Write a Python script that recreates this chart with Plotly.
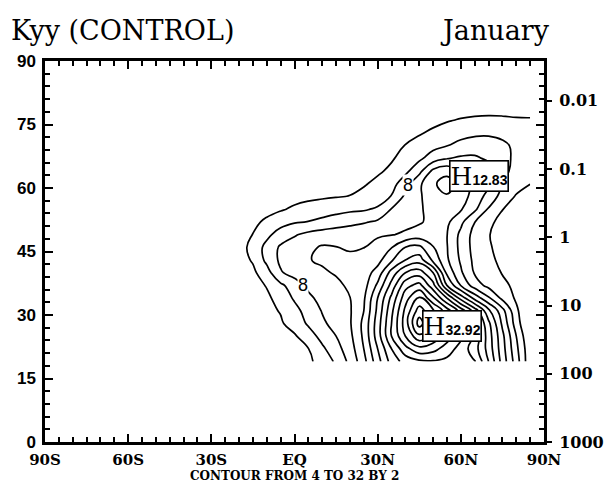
import plotly.graph_objects as go
import numpy as np

# ---------------- data ----------------
LATS = [-45, -40, -35, -30, -25, -20, -15, -10, -5, 0, 5, 10, 15, 20, 25,
        30, 35, 40, 45, 50, 55, 60, 65, 70, 75, 80, 85]
HEIGHTS = [19, 22, 25, 28, 31, 34, 37, 40, 43, 46, 49, 52, 55, 58, 61,
           64, 67, 70, 73, 76, 79]

K_Z19 = [0.5, 0.8, 1.0, 1.3, 1.6, 2.0, 2.4, 2.8, 3.2, 3.5, 3.8, 4.4, 6.4, 8.5, 11.3, 15.2, 18.8, 20.8, 21.6, 21.8, 21.5, 20.8, 20.3, 16, 11.2, 7, 2.5]
K_Z22 = [0.5, 0.8, 1.1, 1.4, 1.7, 2.1, 2.5, 2.9, 3.3, 3.6, 3.95, 5.6, 7.3, 9.0, 12, 16, 20, 23.3, 25.3, 24.7, 23, 21.2, 18.9, 15.2, 10.8, 6.5, 2.5]
K_Z25 = [0.5, 0.8, 1.1, 1.5, 1.9, 2.3, 2.7, 3.1, 3.5, 3.8, 5.0, 6.7, 8.0, 9.5, 12.4, 17, 22, 26, 29.5, 27.5, 25, 22.5, 19.7, 15, 10.5, 6, 2]
K_Z28 = [0.6, 0.9, 1.3, 1.7, 2.2, 2.6, 3.0, 3.4, 3.8, 4.7, 6.3, 7.7, 8.6, 9.8, 12.5, 17, 22, 27, 32.92, 29.3, 26, 23, 19.2, 14.5, 9.6, 5, 1.5]
K_Z31 = [0.6, 1.0, 1.4, 1.9, 2.4, 2.8, 3.2, 3.6, 4.1, 5.3, 6.9, 8.1, 9.1, 9.8, 12, 16.5, 21.5, 26.5, 31, 28.3, 25, 21.2, 17.2, 12.5, 8.7, 4.4, 1.8]
K_Z34 = [0.6, 0.9, 1.3, 1.8, 2.3, 2.8, 3.3, 3.7, 4.6, 6.3, 7.6, 8.6, 9.3, 9.95, 11.7, 16.0, 20.5, 25.2, 28.2, 24.4, 20, 15.2, 11.3, 8.3, 5.5, 3.7, 2]
K_Z37 = [0.5, 0.8, 1.2, 1.6, 2.1, 2.7, 3.4, 4.1, 5.6, 7.0, 8.4, 9.0, 9.5, 10.4, 11.2, 14.4, 18.7, 23.3, 24.7, 20.7, 14, 9.9, 7, 5.4, 4.5, 3.5, 2.5]
K_Z40 = [0.5, 0.8, 1.2, 1.7, 2.3, 3.0, 3.6, 5.2, 7.8, 8.8, 9.3, 9.7, 10.2, 10.6, 11.0, 12.8, 16.8, 20.0, 21, 18, 11.5, 8.3, 5.8, 4.7, 3.9, 3.0, 2.2]
K_Z43 = [0.4, 0.7, 1.1, 1.6, 2.3, 3.2, 4.2, 6.5, 8.4, 9.2, 9.9, 10.3, 10.5, 10.6, 10.8, 11.3, 13.7, 16, 17, 13.5, 10.3, 7.7, 5.5, 4.4, 3.6, 2.8, 2.0]
K_Z46 = [0.3, 0.6, 1.0, 1.5, 2.2, 3.1, 4.7, 6.6, 8.3, 9.0, 9.6, 10.2, 10.05, 9.7, 9.95, 10.8, 11.9, 14, 14.5, 12.1, 10.1, 7.4, 5.3, 4.2, 3.4, 2.6, 1.8]
K_Z49 = [0.3, 0.5, 0.9, 1.4, 2.0, 2.9, 4.05, 5.5, 6.9, 7.8, 8.5, 8.9, 9.1, 9.3, 9.5, 9.7, 9.9, 10.3, 10.8, 10.8, 10.05, 7.5, 5.3, 4.1, 3.2, 2.4, 1.6]
K_Z52 = [0.2, 0.4, 0.8, 1.2, 1.8, 2.6, 3.5, 4.4, 5.2, 5.8, 6.05, 6.5, 7.0, 7.4, 7.8, 8.3, 8.9, 9.4, 9.8, 10.5, 10.4, 8.5, 6.05, 4.3, 3.6, 2.7, 1.8]
K_Z55 = [0.2, 0.3, 0.6, 1.0, 1.5, 2.1, 2.8, 3.3, 3.8, 4.3, 4.7, 5.0, 5.3, 5.6, 5.75, 6.3, 8.1, 9.0, 9.7, 10.8, 11.1, 10.2, 8.4, 5.8, 4.05, 2.9, 2.0]
K_Z58 = [0.1, 0.2, 0.4, 0.7, 1.1, 1.6, 2.2, 2.7, 3.1, 3.4, 3.6, 3.75, 3.9, 4.05, 4.6, 4.9, 6.1, 8.4, 9.7, 11.2, 11.8, 10.8, 9.3, 7.2, 5.3, 3.8, 2.7]
K_Z61 = [0.1, 0.1, 0.2, 0.4, 0.7, 1.0, 1.4, 1.8, 2.2, 2.5, 2.8, 3.0, 3.2, 3.5, 3.8, 4.5, 5.2, 7.2, 9.6, 11.7, 12.83, 11.0, 9.5, 8.5, 6.0, 4.9, 4.05]
K_Z64 = [0.1, 0.1, 0.1, 0.2, 0.4, 0.6, 0.9, 1.2, 1.5, 1.8, 2.1, 2.4, 2.7, 3.0, 3.3, 3.7, 4.4, 5.5, 7.4, 10.5, 11.4, 10.2, 9.5, 8.7, 7.0, 4.9, 4.6]
K_Z67 = [0.05, 0.05, 0.1, 0.15, 0.25, 0.4, 0.6, 0.8, 1.1, 1.4, 1.6, 1.9, 2.2, 2.5, 2.8, 3.2, 3.8, 4.7, 5.6, 7.0, 7.9, 8.3, 8.3, 7.7, 6.6, 5.6, 5.0]
K_Z70 = [0.05, 0.05, 0.05, 0.1, 0.15, 0.25, 0.4, 0.6, 0.8, 1.0, 1.2, 1.4, 1.6, 1.9, 2.2, 2.6, 3.1, 4.1, 4.8, 5.4, 5.95, 6.6, 7.0, 6.9, 6.4, 5.6, 5.0]
K_Z73 = [0.05, 0.05, 0.05, 0.05, 0.1, 0.15, 0.25, 0.35, 0.5, 0.65, 0.8, 1.0, 1.2, 1.4, 1.7, 2.0, 2.4, 3.0, 3.8, 4.4, 4.9, 5.3, 5.6, 5.7, 5.5, 5.0, 4.6]
K_Z76 = [0.05, 0.05, 0.05, 0.05, 0.05, 0.1, 0.15, 0.2, 0.3, 0.4, 0.5, 0.6, 0.8, 1.0, 1.2, 1.5, 1.8, 2.2, 2.8, 3.4, 3.85, 4.15, 4.3, 4.35, 4.3, 4.2, 4.2]
K_Z79 = [0.05, 0.05, 0.05, 0.05, 0.05, 0.05, 0.1, 0.15, 0.2, 0.25, 0.3, 0.4, 0.5, 0.7, 0.9, 1.1, 1.4, 1.7, 2.0, 2.4, 2.8, 3.1, 3.3, 3.4, 3.4, 3.3, 3.2]

KYY = [K_Z19, K_Z22, K_Z25, K_Z28, K_Z31, K_Z34, K_Z37, K_Z40, K_Z43, K_Z46,
       K_Z49, K_Z52, K_Z55, K_Z58, K_Z61, K_Z64, K_Z67, K_Z70, K_Z73, K_Z76, K_Z79]

X_TICKS = [-90, -60, -30, 0, 30, 60, 90]
X_LABELS = ["90S", "60S", "30S", "EQ", "30N", "60N", "90N"]
Y_TICKS = [0, 15, 30, 45, 60, 75, 90]
P_TICKS = [1000, 100, 10, 1, 0.1, 0.01]
P_LABELS = ["1000", "100", "10", "1", "0.1", "0.01"]
SCALE_HEIGHT_KM = 7.0
C_START, C_END, C_STEP = 4, 32, 2
LINE_LABELS = [("8", 41, 60.7), ("8", 3, 37.1)]

# ---------------- figure ----------------
Z = np.array(KYY)
lats = np.array(LATS)
hts = np.array(HEIGHTS)

fig = go.Figure()
fig.add_trace(go.Contour(
    x=LATS, y=HEIGHTS, z=KYY,
    contours=dict(start=C_START, end=C_END, size=C_STEP, coloring="none"),
    line=dict(color="black", width=1.7, smoothing=1.3),
    showscale=False, hoverinfo="skip"))
# dummy trace for the pressure axis
fig.add_trace(go.Scatter(x=[None], y=[None], yaxis="y2", showlegend=False))

# maxima labels
iz, ix = np.unravel_index(np.argmax(Z), Z.shape)
main_max = (lats[ix], hts[iz], Z[iz, ix])
upper = Z.copy()
upper[hts < 50, :] = -1
iz2, ix2 = np.unravel_index(np.argmax(upper), upper.shape)
sec_max = (lats[ix2], hts[iz2], Z[iz2, ix2])

def hlabel(lat, h, val, xshift, yshift):
    return dict(x=lat, y=h, xref="x", yref="y", xanchor="left", yanchor="middle",
                xshift=xshift, yshift=yshift, showarrow=False,
                text=("H<span style='font-family:Liberation Sans;font-size:14px;"
                      "font-weight:bold'>%.2f</span>" % val),
                font=dict(family="DejaVu Serif", size=25, color="black"),
                bgcolor="white", bordercolor="black", borderwidth=1.6, borderpad=0)

annotations = [hlabel(main_max[0], main_max[1], main_max[2], 3, -3),
               hlabel(sec_max[0], sec_max[1], sec_max[2], 2, 8)]
for txt, la, h in LINE_LABELS:
    annotations.append(dict(x=la, y=h, text=txt, showarrow=False, bgcolor="white",
                            borderpad=0,
                            font=dict(family="Liberation Sans", size=18, color="black")))
annotations += [
    dict(x=-0.072, y=1.081, xref="paper", yref="paper", xanchor="left", yanchor="middle",
         text="Kyy (CONTROL)", showarrow=False,
         font=dict(family="DejaVu Serif", size=27, color="black")),
    dict(x=1.016, y=1.081, xref="paper", yref="paper", xanchor="right", yanchor="middle",
         text="January", showarrow=False,
         font=dict(family="DejaVu Serif", size=27, color="black")),
    dict(x=0.5, y=-0.089, xref="paper", yref="paper", xanchor="center", yanchor="middle",
         text="<b>CONTOUR FROM %d TO %d BY %d</b>" % (C_START, C_END, C_STEP), showarrow=False,
         font=dict(family="DejaVu Serif", size=12, color="black")),
]

p_top = 3 - 90 / (SCALE_HEIGHT_KM * np.log(10))

fig.update_layout(
    width=604, height=483,
    margin=dict(l=45, r=60, t=61, b=41, autoexpand=False),
    paper_bgcolor="white", plot_bgcolor="white",
    showlegend=False,
    annotations=annotations,
    xaxis=dict(range=[-90, 90], tickmode="array", tickvals=X_TICKS, ticktext=X_LABELS,
               ticks="inside", ticklen=8, tickwidth=1.5, tickcolor="black",
               minor=dict(dtick=5, tick0=-90, ticks="inside", ticklen=5, tickwidth=1.5,
                          tickcolor="black", showgrid=False),
               showline=True, linewidth=2.5, linecolor="black", mirror="ticks",
               showgrid=False, zeroline=False, automargin=False,
               tickfont=dict(family="DejaVu Serif", size=15, color="black", weight="bold"),
               ticklabelstandoff=2),
    yaxis=dict(range=[0, 90], tickmode="array", tickvals=Y_TICKS,
               ticks="inside", ticklen=8, tickwidth=1.5, tickcolor="black",
               minor=dict(dtick=3, tick0=0, ticks="inside", ticklen=5, tickwidth=1.5,
                          tickcolor="black", showgrid=False),
               showline=True, linewidth=2.5, linecolor="black", mirror="ticks",
               showgrid=False, zeroline=False, automargin=False,
               tickfont=dict(family="Liberation Sans", size=17, color="black", weight="bold"),
               ticklabelstandoff=3),
    yaxis2=dict(type="log", range=[3, p_top], overlaying="y", side="right", anchor="x",
                tickmode="array", tickvals=P_TICKS, ticktext=P_LABELS,
                ticks="outside", ticklen=7, tickwidth=1.5, tickcolor="black",
                showline=False, showgrid=False, zeroline=False, automargin=False,
                tickfont=dict(family="DejaVu Serif", size=16, color="black", weight="bold"),
                ticklabelstandoff=4),
)

fig.write_html("out.html")
